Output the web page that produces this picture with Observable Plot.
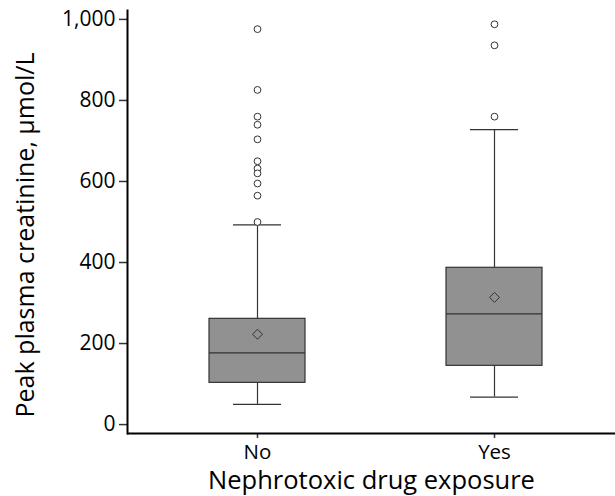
<!DOCTYPE html>
<html>
<head>
<meta charset="utf-8">
<script src="https://cdn.jsdelivr.net/npm/d3@7"></script>
<script src="https://cdn.jsdelivr.net/npm/@observablehq/plot@0.6"></script>
<style>
  html, body { margin: 0; padding: 0; background: #fff; }
  #chart svg { display: block; }
</style>
</head>
<body>
<div id="chart"></div>
<script>
// Groups (x categories)
const groups = ["No", "Yes"];
// Box summary statistics per group (µmol/L)
const lowerWhisker = [50, 68];
const q1 = [103, 145];
const median = [177, 273];
const q3 = [261, 387];
const upperWhisker = [493, 728];
const mean = [223, 314];
// Outliers per group
const outliersNo = [976, 826, 760, 740, 704, 650, 632, 620, 595, 565, 500];
const outliersYes = [988, 936, 760];
// Axis ticks and labels
const yTicks = [0, 200, 400, 600, 800, 1000];
const xLabel = "Nephrotoxic drug exposure";
const yLabel = "Peak plasma creatinine, µmol/L";

const boxes = groups.map((g, i) => ({
  group: g, lo: lowerWhisker[i], q1: q1[i], med: median[i], q3: q3[i], hi: upperWhisker[i], mean: mean[i]
}));
const outliers = [
  ...outliersNo.map(v => ({group: "No", value: v})),
  ...outliersYes.map(v => ({group: "Yes", value: v}))
];

const font = "'Open Sans', 'Noto Sans', sans-serif";
const ink = "#333";

const chart = Plot.plot({
  width: 615,
  height: 496,
  marginLeft: 127,
  marginRight: 0,
  marginTop: 10,
  marginBottom: 63,
  style: {fontFamily: font, color: "#000", background: "#fff"},
  x: {type: "band", domain: groups, range: [208, 542], paddingInner: 0.5966, paddingOuter: 0},
  y: {domain: [-22, 1022]},
  marks: [
    Plot.axisY({ticks: yTicks, tickFormat: d3.format(",.0f"), tickSize: 8, tickPadding: 4, fontSize: 21, label: null, stroke: ink, strokeWidth: 1.5}),
    Plot.axisX({tickSize: 5, tickPadding: 6, fontSize: 20.5, label: null, stroke: ink, strokeWidth: 1.5}),
    // whiskers
    Plot.ruleX(boxes, {x: "group", y1: "lo", y2: "q1", stroke: ink, strokeWidth: 1.2}),
    Plot.ruleX(boxes, {x: "group", y1: "q3", y2: "hi", stroke: ink, strokeWidth: 1.2}),
    Plot.tickY(boxes, {x: "group", y: "lo", stroke: ink, strokeWidth: 1.2, insetLeft: 24, insetRight: 24}),
    Plot.tickY(boxes, {x: "group", y: "hi", stroke: ink, strokeWidth: 1.2, insetLeft: 24, insetRight: 24}),
    // boxes
    Plot.barY(boxes, {x: "group", y1: "q1", y2: "q3", fill: "#919191", stroke: ink, strokeWidth: 1.2}),
    Plot.tickY(boxes, {x: "group", y: "med", stroke: ink, strokeWidth: 1.2}),
    // mean
    Plot.dot(boxes, {x: "group", y: "mean", symbol: "diamond2", r: 4.5, stroke: ink, strokeWidth: 1, fill: "none"}),
    // outliers
    Plot.dot(outliers, {x: "group", y: "value", r: 3.4, stroke: ink, strokeWidth: 1, fill: "#fff"}),
    // axis lines
    Plot.ruleY([-22], {stroke: "#000", strokeWidth: 2}),
    Plot.frame({anchor: "left", stroke: "#000", strokeWidth: 2}),
    // axis titles
    Plot.text([xLabel], {frameAnchor: "bottom", dy: 47, dx: 0, fontSize: 25.5, fill: "#000", lineAnchor: "middle", textAnchor: "middle"}),
    Plot.text([yLabel], {frameAnchor: "left", dx: -102, dy: 13, rotate: -90, fontSize: 25, fill: "#000", textAnchor: "middle", lineAnchor: "middle"})
  ]
});
document.getElementById("chart").append(chart);
</script>
</body>
</html>
